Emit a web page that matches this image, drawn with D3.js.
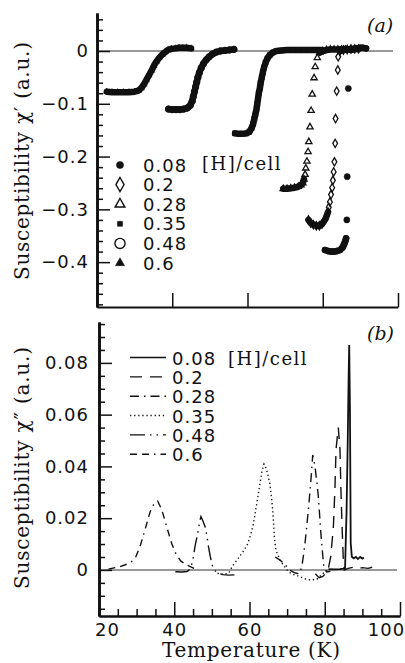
<!DOCTYPE html>
<html>
<head>
<meta charset="utf-8">
<script src="https://cdn.jsdelivr.net/npm/d3@7"></script>
<style>
  body { margin: 0; background: #fff; }
  svg { display: block; }
</style>
</head>
<body>
<div class="canvas"></div>
<script>
// hydrogen content of each sample, [H]/cell
const hydrogen = ['0.08', '0.2', '0.28', '0.35', '0.48', '0.6'];

// panel (a): real part chi' against temperature (K)
const chiA_008 = [[80.6,-0.377],[81.4,-0.379],[82.2,-0.380],[83.0,-0.380],[83.8,-0.379],[84.6,-0.377],[85.3,-0.372],[85.55,-0.368],[85.8,-0.364],[86.0,-0.360],[86.2,-0.355],[86.4,-0.320],[86.5,-0.238],[86.8,-0.071],[87.5,0.002],[88.3,0.004],[89.1,0.005],[89.9,0.006],[90.7,0.006],[91.5,0.005]];
const chiA_02 = [[76.2,-0.320],[76.8,-0.326],[77.5,-0.329],[78.3,-0.331],[79.1,-0.331],[79.8,-0.328],[80.4,-0.322],[80.8,-0.317],[81.1,-0.311],[81.4,-0.305],[81.6,-0.296],[81.9,-0.286],[82.2,-0.272],[82.5,-0.259],[82.7,-0.245],[82.9,-0.229],[83.1,-0.210],[83.3,-0.175],[83.4,-0.128],[83.7,-0.076],[84.0,-0.036],[84.1,-0.011],[84.6,0.000],[85.5,0.002],[86.5,0.003],[87.5,0.004],[88.5,0.004],[89.5,0.004]];
const chiA_028 = [[69.5,-0.261],[70.5,-0.261],[71.5,-0.260],[72.5,-0.259],[73.5,-0.257],[74.2,-0.254],[74.7,-0.250],[75.0,-0.243],[75.3,-0.234],[75.5,-0.222],[75.8,-0.209],[76.1,-0.191],[76.3,-0.172],[76.6,-0.144],[76.9,-0.113],[77.2,-0.082],[77.7,-0.051],[78.0,-0.030],[78.55,-0.013],[79.2,-0.003],[80,0.000],[81,0.002],[82,0.003],[83,0.003],[84,0.003],[85,0.003],[86,0.003]];
const chiA_035 = [[56.7,-0.156],[57.7,-0.157],[58.7,-0.157],[59.7,-0.156],[60.5,-0.153],[61.1,-0.146],[61.5,-0.138],[61.8,-0.129],[62.1,-0.120],[62.4,-0.110],[62.6,-0.100],[62.8,-0.090],[63.0,-0.080],[63.3,-0.070],[63.5,-0.060],[63.8,-0.050],[64.1,-0.040],[64.4,-0.031],[64.8,-0.022],[65.3,-0.014],[65.9,-0.008],[66.7,-0.003],[67.7,0.000],[69,0.001],[70.5,0.002],[72,0.002],[73.5,0.002],[75,0.002],[76.5,0.002],[78,0.002],[79.5,0.002]];
const chiA_048 = [[39,-0.110],[40,-0.111],[41,-0.111],[42,-0.111],[43,-0.110],[44,-0.108],[44.8,-0.103],[45.3,-0.095],[45.6,-0.086],[45.9,-0.077],[46.2,-0.068],[46.5,-0.059],[46.8,-0.050],[47.2,-0.041],[47.7,-0.032],[48.3,-0.024],[49,-0.017],[49.8,-0.011],[50.7,-0.006],[51.7,-0.002],[52.8,0.000],[54,0.001],[55.2,0.002],[56.4,0.003]];
const chiA_06 = [[22.6,-0.077],[24,-0.078],[25.5,-0.078],[27,-0.078],[28.5,-0.078],[30,-0.077],[31,-0.075],[31.8,-0.070],[32.5,-0.063],[33.1,-0.055],[33.8,-0.046],[34.5,-0.037],[35.1,-0.028],[35.8,-0.020],[36.5,-0.013],[37.3,-0.007],[38.1,-0.002],[38.9,0.002],[39.8,0.004],[40.8,0.005],[41.8,0.006],[42.8,0.006],[43.8,0.006],[45.0,0.005]];

// panel (b): imaginary part chi'' against temperature (K)
const chiB_008 = [[81,0.0003],[82.5,0.0002],[84,0.0003],[85,0.0005],[85.4,0.0007],[85.8,0.023],[86.1,0.049],[86.35,0.075],[86.5,0.0869],[86.7,0.0618],[86.9,0.0103],[87.2,0.0051],[87.7,0.0045],[88.3,0.0050],[88.8,0.0042],[89.4,0.0050],[90,0.0044],[90.4,0.0048]];
const chiB_02 = [[77.5,-0.0015],[78.5,-0.003],[79.5,-0.0025],[80.3,-0.0012],[80.9,0.000],[81.6,0.0052],[82.3,0.0168],[82.7,0.031],[83.0,0.0466],[83.6,0.055],[84.05,0.0466],[84.3,0.031],[84.6,0.0168],[84.9,0.0052],[85.2,0.000],[86.2,0.0006],[87.5,0.0010],[88.8,0.0004],[90,0.0009],[91.5,0.0006],[93,0.0012]];
const chiB_028 = [[66.8,0.005],[67.7,0.0042],[68.6,0.0032],[69.4,0.0025],[70.2,0.0005],[71.2,-0.0005],[72.2,-0.0012],[73.2,-0.0015],[73.6,0.0000],[73.9,0.0013],[74.3,0.0051],[74.8,0.011],[75.2,0.0167],[75.7,0.024],[76.1,0.0309],[76.5,0.038],[76.8,0.0444],[77.1,0.0425],[77.4,0.0399],[77.9,0.034],[78.3,0.0283],[78.6,0.022],[78.9,0.0154],[79.2,0.010],[79.5,0.0051],[79.8,0.0007],[80.5,-0.0008],[81.5,-0.0005]];
const chiB_035 = [[51.5,-0.0013],[53,-0.0018],[54.5,-0.0012],[55.5,0.0015],[56.5,0.0035],[57.5,0.0055],[58.5,0.0075],[59.5,0.0100],[60.3,0.0135],[61,0.0175],[61.5,0.0219],[62.2,0.028],[62.8,0.0335],[63.3,0.038],[63.85,0.0409],[64.5,0.039],[65.4,0.0335],[66,0.026],[66.3,0.0206],[66.6,0.0129],[67.0,0.0077],[68.1,0.0039],[69.2,0.0015],[70.3,-0.0007],[71.8,-0.0018],[73.4,-0.0026],[74.8,-0.0034],[76.1,-0.0039],[77.9,-0.0036],[79.6,-0.0013],[81,0]];
const chiB_048 = [[40.3,-0.0007],[42,-0.0008],[43.4,-0.0006],[44.2,0.0003],[44.6,0.0019],[45.1,0.005],[45.5,0.009],[46,0.0125],[46.4,0.0154],[46.8,0.019],[47.1,0.0206],[47.6,0.019],[48.2,0.0167],[48.7,0.013],[49.1,0.009],[49.6,0.005],[50,0.0026],[50.4,0.0003],[51.5,-0.0012],[53,-0.0018],[54.5,-0.0020],[56,-0.0019]];
const chiB_06 = [[22.5,0.0003],[24,0.0008],[25.5,0.0012],[27,0.002],[28.5,0.003],[29.7,0.0048],[30.9,0.009],[32.2,0.0154],[33.6,0.0225],[34.5,0.0252],[35.6,0.0266],[36.7,0.0232],[38,0.0167],[39.3,0.0103],[40.5,0.006],[41.7,0.0035],[43.3,0.0019],[45.1,0.0007],[46.5,0.0002]];

// ticks and labels
const xTickMajor = [20, 40, 60, 80, 100];
const xTickLabels = ['20', '40', '60', '80', '100'];
const yTickMajorA = [0, -0.1, -0.2, -0.3, -0.4];
const yTickLabelsA = ['0', '\u22120.1', '\u22120.2', '\u22120.3', '\u22120.4'];
const yTickMajorB = [0, 0.02, 0.04, 0.06, 0.08];
const yTickLabelsB = ['0', '0.02', '0.04', '0.06', '0.08'];

const numFont = "'DejaVu Sans', sans-serif";
const serif = "'DejaVu Serif', serif";

const svg = d3.select('.canvas')
    .append('svg')
    .attr('width', 405)
    .attr('height', 663);

// scales; panel (a) sits 2px left of panel (b)
const xA = d3.scaleLinear().domain([20, 100]).range([97, 398]);
const xB = d3.scaleLinear().domain([20, 100]).range([99, 400]);
const yA = d3.scaleLinear().domain([-0.485, 0.072]).range([307, 13]);
const yB = d3.scaleLinear().domain([-0.0178, 0.0958]).range([616, 322]);

const round = v => Math.round(v * 1000) / 1000;
const xMinor = d3.range(25, 100, 5).filter(v => v % 20 !== 0);
const yMinorA = d3.range(-48, 7, 2).map(v => round(v / 100)).filter(v => Math.abs(v * 10 - Math.round(v * 10)) > 1e-6);
const yMinorB = d3.range(-15, 96, 5).map(v => round(v / 1000)).filter(v => Math.abs(v * 50 - Math.round(v * 50)) > 1e-6);

function styleAxis(g, width) {
  g.select('.domain').attr('stroke', '#111').attr('stroke-width', width);
  g.selectAll('.tick line').attr('stroke', '#111').attr('stroke-width', 1.5);
  g.selectAll('.tick text').attr('fill', '#111');
  g.attr('font-family', numFont).attr('font-size', 18).style('letter-spacing', '1px');
}

// zero lines
svg.append('line').attr('x1', xA(20)).attr('x2', 393).attr('y1', yA(0)).attr('y2', yA(0))
    .attr('stroke', '#333').attr('stroke-width', 1.1);
svg.append('line').attr('x1', xB(20)).attr('x2', 397).attr('y1', yB(0)).attr('y2', yB(0))
    .attr('stroke', '#333').attr('stroke-width', 1.1);

// ---- panel (a) axes
const gxA = svg.append('g').attr('transform', `translate(0,${yA.range()[0]})`);
gxA.call(d3.axisBottom(xA).tickValues(xMinor).tickSize(-6).tickSizeOuter(0).tickFormat(''));
gxA.call(d3.axisBottom(xA).tickValues(xTickMajor).tickSize(-14).tickSizeOuter(0).tickFormat(''));
styleAxis(gxA, 2.2);

const gyA = svg.append('g').attr('transform', `translate(${xA(20)},0)`);
gyA.call(d3.axisLeft(yA).tickValues(yMinorA).tickSize(-6).tickSizeOuter(0).tickFormat(''));
const gyA2 = svg.append('g').attr('transform', `translate(${xA(20)},0)`);
gyA2.call(d3.axisLeft(yA).tickValues(yTickMajorA).tickSize(-13).tickSizeOuter(0).tickPadding(8)
    .tickFormat((d, i) => yTickLabelsA[i]));
styleAxis(gyA, 2.6);
styleAxis(gyA2, 2.6);

// ---- panel (b) axes
const gxB = svg.append('g').attr('transform', `translate(0,${yB.range()[0]})`);
gxB.call(d3.axisBottom(xB).tickValues(xMinor).tickSize(-7).tickSizeOuter(0).tickFormat(''));
const gxB2 = svg.append('g').attr('transform', `translate(0,${yB.range()[0]})`);
gxB2.call(d3.axisBottom(xB).tickValues(xTickMajor).tickSize(-14).tickSizeOuter(0).tickPadding(7)
    .tickFormat((d, i) => xTickLabels[i]));
gxB2.selectAll('.tick text').attr('dx', d => d === 20 ? 8 : d === 100 ? -14 : 0);
styleAxis(gxB, 2.2);
styleAxis(gxB2, 2.2);

const gyB = svg.append('g').attr('transform', `translate(${xB(20)},0)`);
gyB.call(d3.axisLeft(yB).tickValues(yMinorB).tickSize(-6).tickSizeOuter(0).tickFormat(''));
const gyB2 = svg.append('g').attr('transform', `translate(${xB(20)},0)`);
gyB2.call(d3.axisLeft(yB).tickValues(yTickMajorB).tickSize(-13).tickSizeOuter(0).tickPadding(10)
    .tickFormat((d, i) => yTickLabelsB[i]));
styleAxis(gyB, 2.6);
styleAxis(gyB2, 2.6);

// ---- panel (a) data: thick runs where samples are dense, plus markers
const seriesA = [
  {data: chiA_008, sym: d3.symbolCircle, filled: true, size: 30, legSize: 40, full: false},
  {data: chiA_02, sym: d3.symbolDiamond, filled: false, size: 20, legSize: 58, full: false},
  {data: chiA_028, sym: d3.symbolTriangle, filled: false, size: 17, legSize: 42, full: false},
  {data: chiA_035, sym: d3.symbolSquare, filled: true, size: 25, legSize: 25, full: true},
  {data: chiA_048, sym: d3.symbolCircle, filled: false, size: 28, legSize: 80, full: true},
  {data: chiA_06, sym: d3.symbolTriangle, filled: true, size: 17, legSize: 36, full: true}
];

function runs(pts, gap) {
  const out = [];
  let cur = [pts[0]];
  for (let i = 1; i < pts.length; i++) {
    const a = pts[i - 1], b = pts[i];
    if (Math.hypot(b[0] - a[0], b[1] - a[1]) <= gap) cur.push(b);
    else { out.push(cur); cur = [b]; }
  }
  out.push(cur);
  return out.filter(r => r.length > 1);
}

const lineA = d3.line();
seriesA.forEach(s => {
  const px = s.data.map(d => [xA(d[0]), yA(d[1])]);
  runs(px, s.full ? Infinity : 4.5).forEach(r => {
    svg.append('path').attr('d', lineA(r))
        .attr('fill', 'none').attr('stroke', '#111').attr('stroke-width', 6.5)
        .attr('stroke-linejoin', 'round').attr('stroke-linecap', 'round');
  });
  svg.append('g').selectAll('path')
      .data(s.data)
      .enter()
      .append('path')
      .attr('d', d3.symbol().type(s.sym).size(s.size))
      .attr('transform', d => `translate(${xA(d[0])},${yA(d[1])})`)
      .attr('fill', s.filled ? '#111' : 'none')
      .attr('stroke', '#111')
      .attr('stroke-width', s.filled ? 0.5 : 1.3);
});

// legend (a)
const legA = svg.append('g');
seriesA.forEach((s, i) => {
  const cy = 165 + i * 19.6;
  legA.append('path')
      .attr('d', d3.symbol().type(s.sym).size(s.legSize))
      .attr('transform', `translate(120,${cy})`)
      .attr('fill', s.filled ? '#111' : 'none')
      .attr('stroke', '#111').attr('stroke-width', s.filled ? 0.5 : 1.4);
  legA.append('text').attr('x', 143).attr('y', cy + 6.5)
      .attr('font-family', numFont).attr('font-size', 18).style('letter-spacing', '1px')
      .attr('fill', '#111').text(hydrogen[i]);
});
svg.append('text').attr('x', 202).attr('y', 170)
    .attr('font-family', serif).attr('font-size', 18).style('letter-spacing', '1.5px')
    .attr('fill', '#111').text('[H]/cell');

// ---- panel (b) curves
const seriesB = [
  {data: chiB_008, dash: null},
  {data: chiB_02, dash: '12,8'},
  {data: chiB_028, dash: '9,5,1.5,5'},
  {data: chiB_035, dash: '1.3,2.8'},
  {data: chiB_048, dash: '15,5,1.5,5,1.5,5'},
  {data: chiB_06, dash: '7,5,7,5,1.5,5'}
];

const lineB = d3.line().x(d => xB(d[0])).y(d => yB(d[1]));
seriesB.forEach(s => {
  svg.append('path').attr('d', lineB(s.data))
      .attr('fill', 'none').attr('stroke', '#111').attr('stroke-width', s.dash ? 1.4 : 1.8)
      .attr('stroke-dasharray', s.dash);
});

// legend (b)
const legB = svg.append('g');
seriesB.forEach((s, i) => {
  const ly = 357.5 + i * 19.35;
  legB.append('line').attr('x1', 130).attr('x2', 166).attr('y1', ly).attr('y2', ly)
      .attr('stroke', '#111').attr('stroke-width', 1.4).attr('stroke-dasharray', s.dash);
  legB.append('text').attr('x', 172).attr('y', ly + 7)
      .attr('font-family', numFont).attr('font-size', 18).style('letter-spacing', '1px')
      .attr('fill', '#111').text(hydrogen[i]);
});
svg.append('text').attr('x', 228).attr('y', 365)
    .attr('font-family', serif).attr('font-size', 18).style('letter-spacing', '1.5px')
    .attr('fill', '#111').text('[H]/cell');

// panel tags
svg.append('text').attr('x', 367).attr('y', 32)
    .attr('font-family', serif).attr('font-style', 'italic').attr('font-size', 19)
    .attr('fill', '#111').text('(a)');
svg.append('text').attr('x', 367).attr('y', 340)
    .attr('font-family', serif).attr('font-style', 'italic').attr('font-size', 19)
    .attr('fill', '#111').text('(b)');

// axis titles
svg.append('text')
    .attr('transform', 'translate(29,161) rotate(-90)')
    .attr('text-anchor', 'middle')
    .attr('font-family', serif).attr('font-size', 20)
    .attr('textLength', 238).attr('lengthAdjust', 'spacing')
    .attr('fill', '#111').text('Susceptibility \u03c7\u2032 (a.u.)');
svg.append('text')
    .attr('transform', 'translate(29,468) rotate(-90)')
    .attr('text-anchor', 'middle')
    .attr('font-family', serif).attr('font-size', 20)
    .attr('textLength', 242).attr('lengthAdjust', 'spacing')
    .attr('fill', '#111').text('Susceptibility \u03c7\u2033 (a.u.)');
svg.append('text')
    .attr('x', 251).attr('y', 657)
    .attr('text-anchor', 'middle')
    .attr('font-family', serif).attr('font-size', 20)
    .attr('textLength', 178).attr('lengthAdjust', 'spacing')
    .attr('fill', '#111').text('Temperature (K)');
</script>
</body>
</html>
